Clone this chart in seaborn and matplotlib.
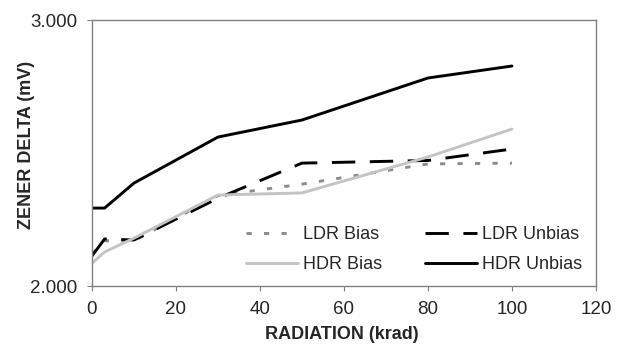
import numpy as np
import pandas as pd
import matplotlib.pyplot as plt
import seaborn as sns
from matplotlib.ticker import FormatStrFormatter

plt.switch_backend('Agg')

# data
radiation = [0, 3, 10, 30, 50, 80, 100]
ldr_bias = [2.12, 2.17, 2.17, 2.34, 2.383, 2.459, 2.462]
ldr_unbias = [2.113, 2.177, 2.173, 2.33, 2.462, 2.472, 2.515]
hdr_bias = [2.086, 2.128, 2.18, 2.342, 2.35, 2.485, 2.59]
hdr_unbias = [2.293, 2.293, 2.387, 2.56, 2.624, 2.782, 2.827]

series = {
    'LDR Bias': ldr_bias,
    'LDR Unbias': ldr_unbias,
    'HDR Bias': hdr_bias,
    'HDR Unbias': hdr_unbias,
}

styles = {
    'LDR Bias': dict(color='#8c8c8c', dashes=(1.8, 4.2)),
    'LDR Unbias': dict(color='black', dashes=(8, 5)),
    'HDR Bias': dict(color='#c4c4c4', dashes=None),
    'HDR Unbias': dict(color='black', dashes=None),
}

sns.set_style('white')
plt.rcParams['font.family'] = ['Liberation Sans', 'DejaVu Sans']

fig = plt.figure(figsize=(6.24, 3.54), dpi=100)
ax = fig.add_axes([0.1474, 0.192, 0.8076, 0.7515])

handles = {}
for name, vals in series.items():
    df = pd.DataFrame({'x': radiation, 'y': vals})
    sns.lineplot(data=df, x='x', y='y', ax=ax, color=styles[name]['color'], lw=2.1, label=name)
    line = ax.get_lines()[-1]
    if styles[name]['dashes'] is not None:
        line.set_dashes(styles[name]['dashes'])
    handles[name] = line

ax.set_xlim(0, 120)
ax.set_ylim(2.0, 3.0)
ax.set_xticks(np.arange(0, 121, 20))
ax.set_yticks([2.0, 3.0])
ax.yaxis.set_major_formatter(FormatStrFormatter('%.3f'))
ax.tick_params(axis='both', labelsize=13.5, length=3.5, direction='out', color='#808080',
               bottom=True, left=True, pad=7)

for s in ax.spines.values():
    s.set_color('#808080')
    s.set_linewidth(1.0)

ax.set_xlabel('RADIATION (krad)', fontsize=13, fontweight='bold')
ax.set_ylabel('ZENER DELTA (mV)', fontsize=13, fontweight='bold', va='center')
ax.xaxis.set_label_coords(0.495, -0.150)
ax.yaxis.set_label_coords(-0.129, 0.53)

order = ['LDR Bias', 'HDR Bias', 'LDR Unbias', 'HDR Unbias']
ax.legend([handles[n] for n in order], order, ncol=2, frameon=False, fontsize=13,
          loc='lower right', bbox_to_anchor=(582 / 624, 1 - 273 / 354),
          bbox_transform=fig.transFigure, borderpad=0, borderaxespad=0,
          handlelength=2.9, handletextpad=0.25, columnspacing=2.4, labelspacing=0.7)

plt.savefig('out.png', dpi=100)
